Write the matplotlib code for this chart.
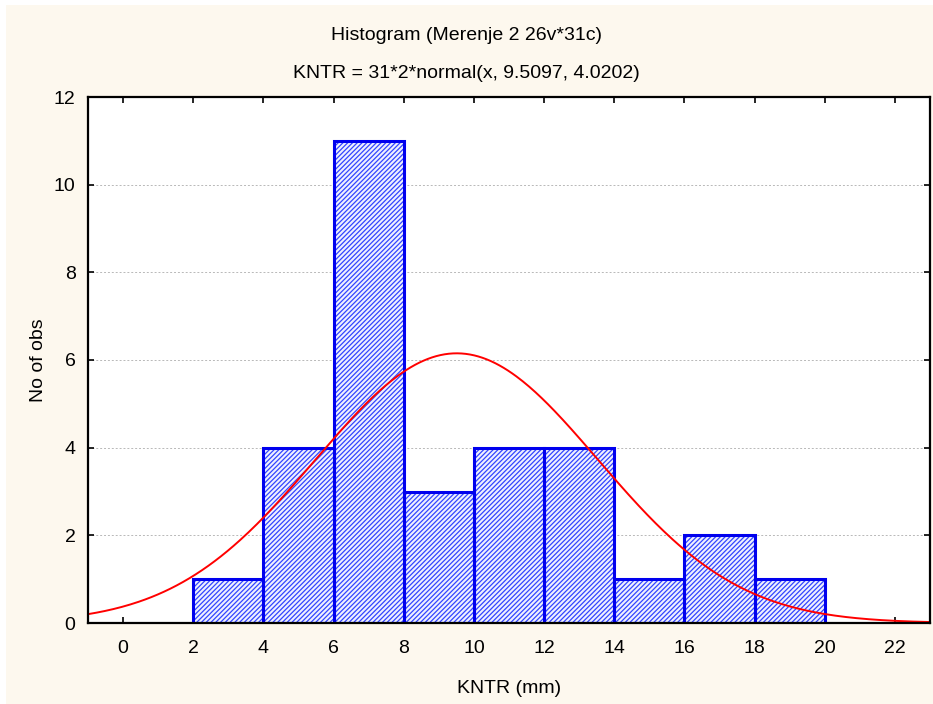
import numpy as np
import matplotlib
matplotlib.use("Agg")
import matplotlib.pyplot as plt
from matplotlib.patches import Rectangle

plt.rcParams['font.family'] = ['Liberation Sans', 'DejaVu Sans']
plt.rcParams['hatch.linewidth'] = 0.9

# histogram bins (mm) and counts
bin_edges = [2, 4, 6, 8, 10, 12, 14, 16, 18, 20]
counts = [1, 4, 11, 3, 4, 4, 1, 2, 1]

# fitted normal from the title: 31*2*normal(x, 9.5097, 4.0202)
n_obs = 31
bin_width = 2
mu = 9.5097
sigma = 4.0202

x_ticks = list(range(0, 24, 2))
y_ticks = list(range(0, 13, 2))

fs = 14

fig = plt.figure(figsize=(9.33, 7.04), dpi=100)
fig.patch.set_facecolor('white')
# cream panel behind the chart (thin white strip top/left like the reference)
fig.patches.append(Rectangle((6 / 933, 0), 1, 1 - 5 / 704, transform=fig.transFigure,
                             facecolor='#fdf8ee', edgecolor='none', zorder=-10))

ax = fig.add_axes([88 / 933, 1 - 623 / 704, (930 - 88) / 933, (623 - 97) / 704])
ax.set_facecolor('white')

lefts = bin_edges[:-1]
widths = np.diff(bin_edges)
ax.bar(lefts, counts, width=widths, align='edge', facecolor='#eef0ff',
       edgecolor='#3345ff', hatch='///////', linewidth=0, zorder=2)
ax.bar(lefts, counts, width=widths, align='edge', facecolor='none',
       edgecolor='#0000ee', linewidth=2.2, zorder=3)

xs = np.linspace(-1, 23, 400)
ys = n_obs * bin_width * np.exp(-0.5 * ((xs - mu) / sigma) ** 2) / (sigma * np.sqrt(2 * np.pi))
ax.plot(xs, ys, color='#ff0000', linewidth=1.4, zorder=4)

ax.set_xlim(-1, 23)
ax.set_ylim(0, 12)
ax.set_xticks(x_ticks)
ax.set_yticks(y_ticks)
ax.tick_params(direction='in', length=4, width=1.2, top=True, right=True,
               labelsize=fs)
ax.tick_params(axis='x', pad=12)
ax.tick_params(axis='y', pad=9)
ax.yaxis.grid(True, linestyle=(0, (2, 2)), color='#b8b8b8', linewidth=0.7, zorder=1)
for s in ax.spines.values():
    s.set_linewidth(1.6)
    s.set_zorder(5)

ax.set_xlabel('KNTR (mm)', fontsize=fs, labelpad=17)
ax.set_ylabel('No of obs', fontsize=fs, labelpad=5)

fig.text(0.5, 1 - 35 / 704, 'Histogram (Merenje 2 26v*31c)', ha='center', va='center', fontsize=fs)
fig.text(0.5, 1 - 73 / 704, 'KNTR = 31*2*normal(x, 9.5097, 4.0202)', ha='center', va='center', fontsize=fs)

fig.savefig('out.png', dpi=100, facecolor=fig.get_facecolor())
